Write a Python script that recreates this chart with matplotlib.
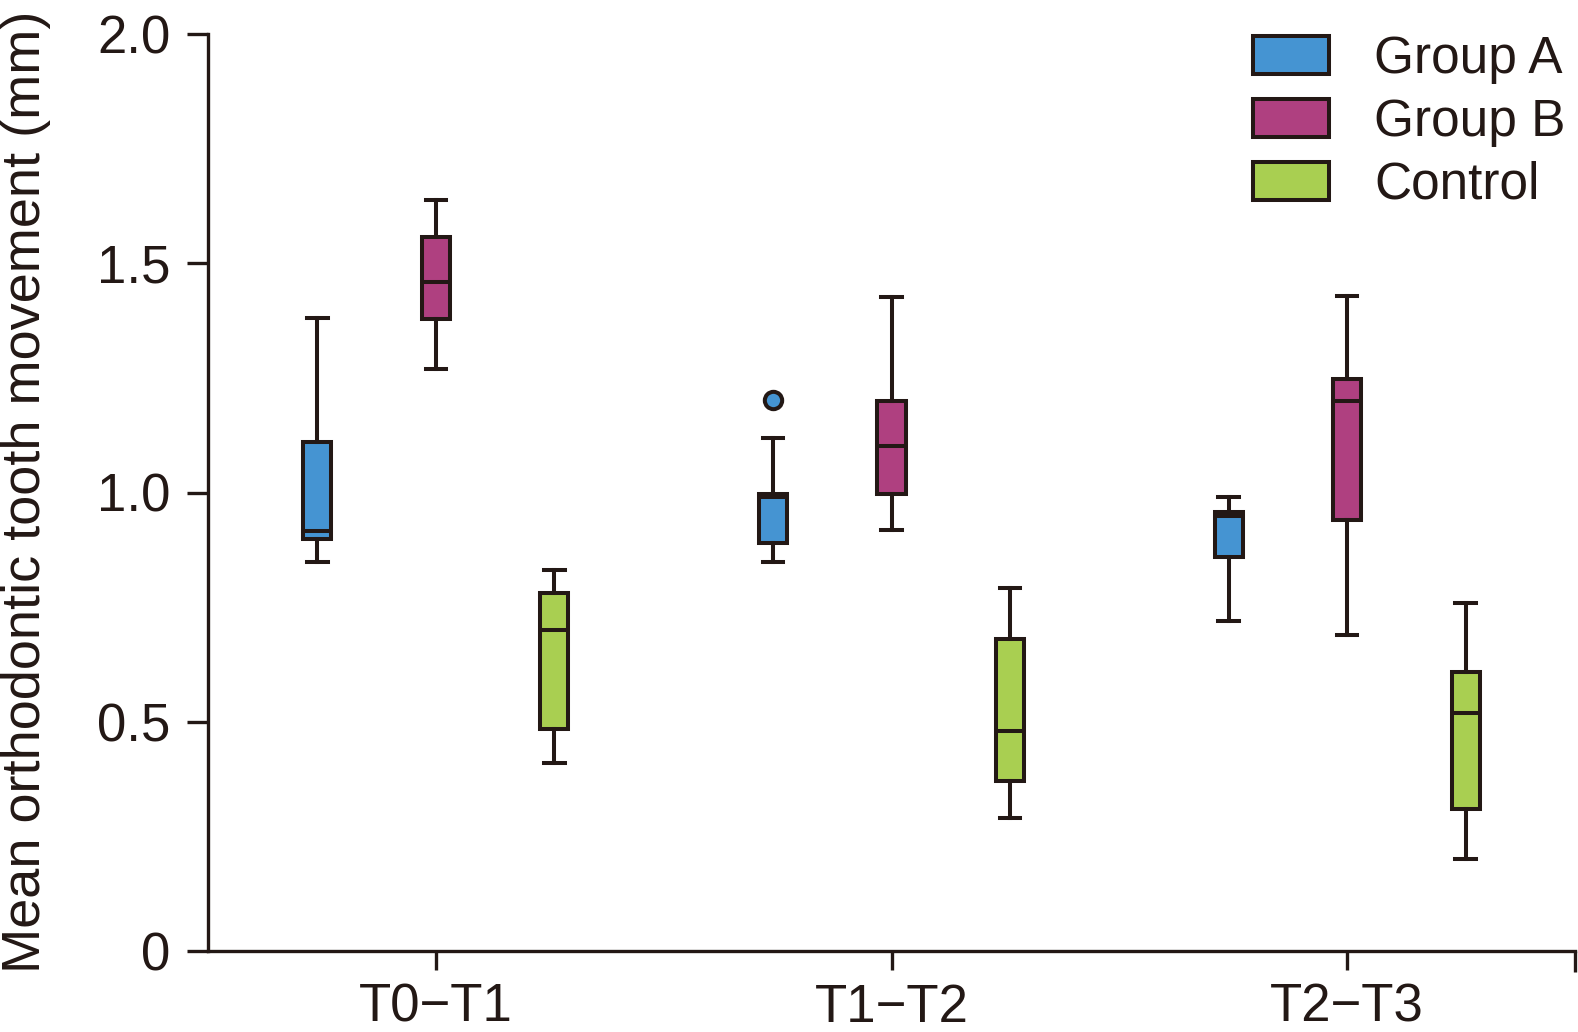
import matplotlib
matplotlib.use("Agg")
import matplotlib.pyplot as plt
from matplotlib.patches import Patch

plt.rcParams['font.family'] = ['Liberation Sans', 'DejaVu Sans']

periods = ["T0\u2212T1", "T1\u2212T2", "T2\u2212T3"]
groups = ["Group A", "Group B", "Control"]
colors = ["#4594D2", "#AF4080", "#A9CF51"]
edge = "#231815"

# five-number summaries per group, per period: (low whisker, q1, median, q3, high whisker)
group_a = [(0.848, 0.899, 0.916, 1.110, 1.380),
           (0.849, 0.890, 0.990, 0.996, 1.118),
           (0.719, 0.860, 0.949, 0.958, 0.990)]
group_b = [(1.269, 1.379, 1.459, 1.557, 1.639),
           (0.918, 0.997, 1.102, 1.199, 1.427),
           (0.689, 0.940, 1.199, 1.247, 1.429)]
control = [(0.410, 0.485, 0.700, 0.780, 0.830),
           (0.291, 0.370, 0.480, 0.681, 0.791),
           (0.200, 0.309, 0.519, 0.608, 0.758)]
# outliers per group, per period
outliers_a = [[], [1.2015], []]
outliers_b = [[], [], []]
outliers_c = [[], [], []]

all_stats = [group_a, group_b, control]
all_fliers = [outliers_a, outliers_b, outliers_c]
offsets = [-0.26, 0.0, 0.26]

fig = plt.figure(figsize=(15.78, 10.32), dpi=100)
ax = fig.add_axes([208/1578, 1-951/1032, (1575-208)/1578, (951-34)/1032])

lw = 2.9
for gi, (stats, fl, col, off) in enumerate(zip(all_stats, all_fliers, colors, offsets)):
    bstats = []
    for (lo, q1, med, q3, hi), f in zip(stats, fl):
        bstats.append(dict(whislo=lo, q1=q1, med=med, q3=q3, whishi=hi, fliers=f))
    pos = [i + off for i in range(len(periods))]
    ax.bxp(bstats, positions=pos, widths=0.062, capwidths=0.045, patch_artist=True,
           showfliers=True,
           boxprops=dict(facecolor=col, edgecolor=edge, linewidth=lw),
           medianprops=dict(color=edge, linewidth=lw),
           whiskerprops=dict(color=edge, linewidth=lw),
           capprops=dict(color=edge, linewidth=lw),
           flierprops=dict(marker='o', markerfacecolor=col, markeredgecolor=edge,
                           markersize=12.5, markeredgewidth=2.9))

ax.set_xlim(-0.5, 2.5)
ax.set_ylim(0, 2.0)
ax.set_xticks(range(len(periods)))
ax.set_xticklabels(periods, fontsize=38)
ax.set_xticks([2.5], minor=True)
ax.set_yticks([0, 0.5, 1.0, 1.5, 2.0])
ax.set_yticklabels(["0", "0.5", "1.0", "1.5", "2.0"], fontsize=38)
for s in ["top", "right"]:
    ax.spines[s].set_visible(False)
for s in ["left", "bottom"]:
    ax.spines[s].set_linewidth(2.4)
    ax.spines[s].set_color(edge)
ax.tick_params(axis='y', which='major', length=15, width=2.4, color=edge, labelcolor=edge, pad=12)
ax.tick_params(axis='x', which='major', length=14, width=2.4, color=edge, labelcolor=edge, pad=9)
ax.tick_params(axis='x', which='minor', length=15, width=2.4, color=edge)

fig.text(1/1578, 1-492/1032, "Mean orthodontic tooth movement (mm)", rotation=90,
         ha='left', va='center', fontsize=39, color=edge)

handles = [Patch(facecolor=c, edgecolor=edge, linewidth=lw) for c in colors]
ax.legend(handles, groups, loc='upper left', bbox_to_anchor=(1253/1578, 1-35/1032),
          bbox_transform=fig.transFigure, frameon=False, fontsize=37,
          handlelength=1.48, handleheight=0.78, handletextpad=0.88,
          labelspacing=0.27, borderpad=0, borderaxespad=0, labelcolor=edge)

fig.savefig("out.png", dpi=100)
